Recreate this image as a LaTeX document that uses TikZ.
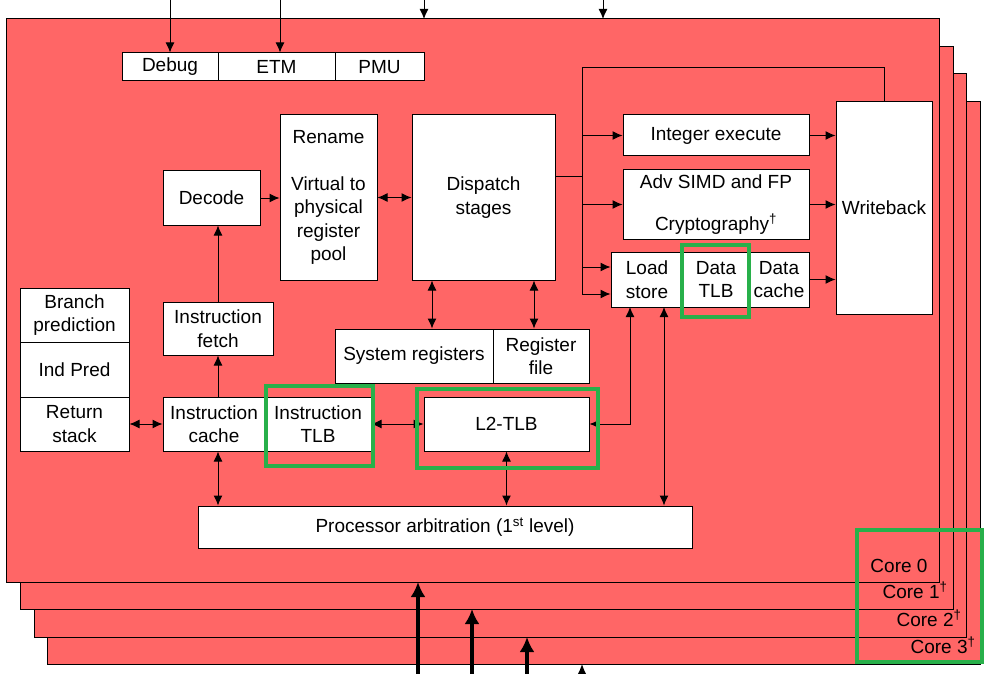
\documentclass[tikz,border=0pt]{standalone}
\usepackage{fontspec}
\setmainfont{Liberation Sans}
\usetikzlibrary{arrows.meta}
\definecolor{corered}{RGB}{255,102,102}
\definecolor{tlbgreen}{RGB}{40,176,74}

\begin{document}
\begin{tikzpicture}[x=1pt, y=-1pt, line width=1pt, >={Latex[length=10pt,width=9pt]},
    blk/.style={draw, fill=white, align=center, inner sep=0pt,
      font=\fontsize{19}{23.5}\selectfont},
    sz/.style 2 args={minimum width=#1pt, minimum height=#2pt},
    hilite/.style={draw=tlbgreen, line width=3.5pt},
    corelbl/.style={anchor=base east, inner sep=0pt, font=\fontsize{19}{23.5}\selectfont},
    bigin/.style={line width=4pt, -{Latex[length=15pt,width=15pt]}}]
        \useasboundingbox (0,0) rectangle (991,674);
        % コア（奥から手前へ）
        \draw[fill=corered] (47,102) rectangle (980,664);
        \draw[fill=corered] (34,74) rectangle (966,637);
        \draw[fill=corered] (20,47) rectangle (953,609);
        \draw[fill=corered] (6,19) rectangle (939,582);
        % デバッグ系
        \node[blk, sz={96}{28}] (debug) at (170,67) {Debug};
        \node[blk, sz={117}{28}] (etm) at (276.5,67) {ETM};
        \node[blk, sz={89}{28}] (pmu) at (379.5,67) {PMU};
        % フロントエンド
        \node[blk, sz={109}{54}] (bpred) at (74.5,315) {Branch\\prediction};
        \node[blk, sz={109}{55}] (indpred) at (74.5,369.5) {Ind Pred};
        \node[blk, sz={109}{54}] (rstack) at (74.5,424) {Return\\stack};
        \node[blk, sz={102}{54}] (icache) at (214,424) {Instruction\\cache};
        \node[blk, sz={106}{54}] (itlb) at (318,424) {Instruction\\TLB};
        \node[blk, sz={110}{53}] (fetch) at (218,328.5) {Instruction\\fetch};
        \node[blk, sz={97}{54}] (decode) at (211.5,198) {Decode};
        \node[blk, sz={97}{165}] (rename) at (328.5,197.5)
          {Rename\\[23.5pt]Virtual to\\physical\\register\\pool};
        \node[blk, sz={143}{165}] (dispatch) at (483.5,197.5) {Dispatch\\stages};
        \node[blk, sz={158}{54}] (sysreg) at (414,356) {System registers};
        \node[blk, sz={96}{54}] (regfile) at (541,356) {Register\\file};
        \node[blk, sz={165}{54}] (l2tlb) at (506.5,424) {L2-TLB};
        % 実行部
        \node[blk, sz={186}{41}] (intex) at (716,135.5) {Integer execute};
        \node[blk, sz={186}{69}] (simd) at (716,204.5)
          {Adv SIMD and FP\\[18pt]Cryptography\textsuperscript{†}};
        \node[blk, sz={72}{55}] (lsu) at (647,279.5) {Load\\store};
        \node[blk, sz={66}{55}] (dtlb) at (716,279.5) {Data\\TLB};
        \node[blk, sz={60}{55}] (dcache) at (779,279.5) {Data\\cache};
        \node[blk, sz={96}{212}] (wb) at (884,208) {Writeback};
        \node[blk, sz={494}{42}] (arb) at (445,527)
          {Processor arbitration (1\textsuperscript{st} level)};
        % 外からの入力
        \coordinate (dbgin) at (170,0);
        \coordinate (etmin) at (280,0);
        \coordinate (topA) at (424,0);
        \coordinate (topB) at (603,0);
        \draw[->] (dbgin) -- (debug.north);
        \draw[->] (etmin) -- (etmin |- etm.north);
        \draw[->] (topA) -- (424,19);
        \draw[->] (topB) -- (603,19);
        % ディスパッチからの分配
        \coordinate (busT) at (582,68);
        \coordinate (busM) at (582,177);
        \coordinate (busB) at (582,294);
        \coordinate (ls1) at (582,267);
        \draw (busM -| dispatch.east) -- (busM);
        \draw (busB) -- (busT) -| (wb.north);
        \draw[->] (busT |- intex.west) -- (intex.west);
        \draw[->] (busT |- simd.west) -- (simd.west);
        \draw[->] (ls1) -- (ls1 -| lsu.west);
        \draw[->] (busB) -- (busB -| lsu.west);
        \draw[->] (intex.east) -- (intex.east -| wb.west);
        \draw[->] (simd.east) -- (simd.east -| wb.west);
        \draw[->] (dcache.east) -- (dcache.east -| wb.west);
        % パイプライン
        \draw[->] (decode.east) -- (decode.east -| rename.west);
        \draw[<->] (rename.east) -- (dispatch.west);
        \draw[->] (fetch.north) -- (fetch.north |- decode.south);
        \draw[->] (fetch.south |- icache.north) -- (fetch.south);
        \draw[<->] (rstack.east) -- (icache.west);
        \draw[<->] (fetch.south |- icache.south) -- (fetch.south |- arb.north);
        \coordinate (ds1) at (432,0);
        \coordinate (ds2) at (534,0);
        \draw[<->] (ds1 |- dispatch.south) -- (ds1 |- sysreg.north);
        \draw[<->] (ds2 |- dispatch.south) -- (ds2 |- regfile.north);
        % TLB とアービトレーション
        \coordinate (lsd) at (630,307);
        \coordinate (lsa) at (664,307);
        \draw[<->] (itlb.east) -- (l2tlb.west);
        \draw[<->] (l2tlb.east) -| (lsd);
        \draw[<->] (l2tlb.south) -- (l2tlb.south |- arb.north);
        \draw[<->] (lsa) -- (lsa |- arb.north);
        % 強調枠
        \draw[hilite] (266,386) rectangle (373,466);
        \draw[hilite] (417,389) rectangle (598,468);
        \draw[hilite] (682,245) rectangle (749,317);
        \draw[hilite] (857,530) rectangle (982,662);
        % コア名
        \node[corelbl] (c0) at (928,572) {Core 0};
        \node[corelbl] (c1) at (948,598) {Core 1\textsuperscript{†}};
        \node[corelbl] (c2) at (962,626) {Core 2\textsuperscript{†}};
        \node[corelbl] (c3) at (976,653) {Core 3\textsuperscript{†}};
        % 下からの入力
        \coordinate (in0) at (418,674);
        \coordinate (in1) at (472,674);
        \coordinate (in2) at (527,674);
        \coordinate (in3) at (582,674);
        \draw[bigin] (in0) -- (418,582);
        \draw[bigin] (in1) -- (472,609);
        \draw[bigin] (in2) -- (527,637);
        \draw[bigin] (in3) -- (582,664);
      \end{tikzpicture}
\end{document}
